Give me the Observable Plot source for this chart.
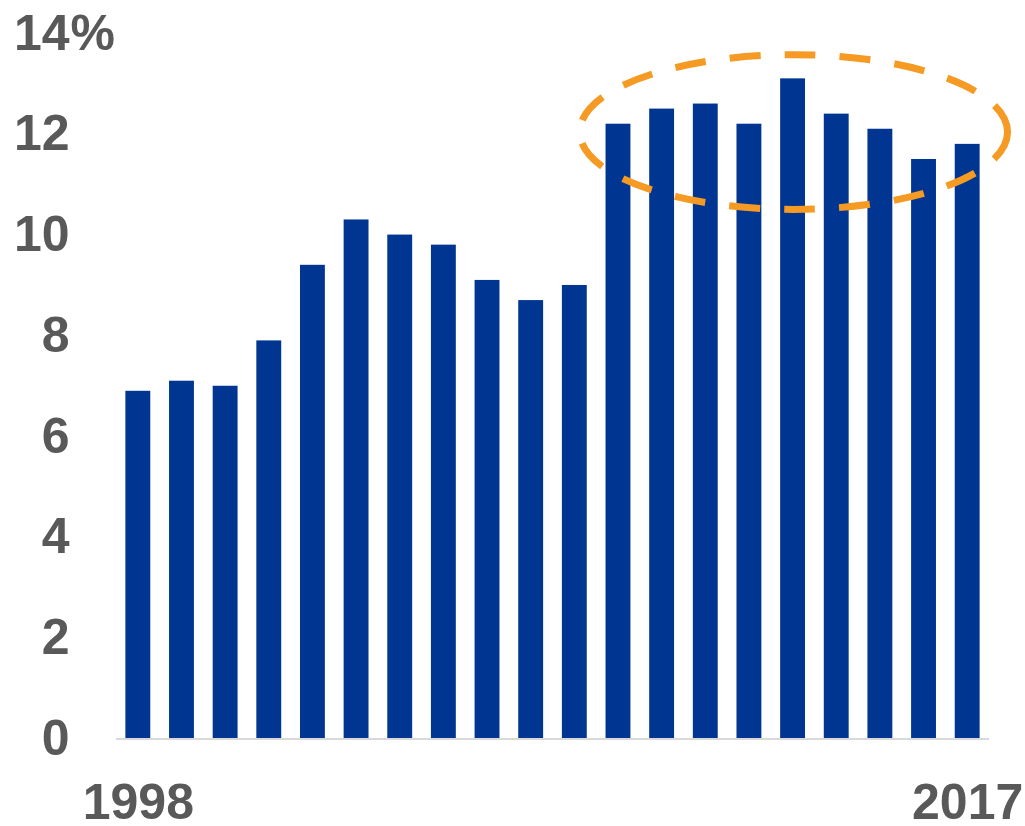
<!DOCTYPE html>
<html>
<head>
<meta charset="utf-8">
<script src="https://cdn.jsdelivr.net/npm/d3@7"></script>
<script src="https://cdn.jsdelivr.net/npm/@observablehq/plot@0.6"></script>
<style>
  html, body { margin: 0; padding: 0; background: #fff; }
  #chart svg { display: block; }
</style>
</head>
<body>
<div id="chart"></div>
<script>
const years = ["1998","1999","2000","2001","2002","2003","2004","2005","2006","2007",
               "2008","2009","2010","2011","2012","2013","2014","2015","2016","2017"];
const values = [6.9, 7.1, 7.0, 7.9, 9.4, 10.3, 10.0, 9.8, 9.1, 8.7,
                9.0, 12.2, 12.5, 12.6, 12.2, 13.1, 12.4, 12.1, 11.5, 11.8];
const yTicks = [0, 2, 4, 6, 8, 10, 12, 14];
const xTickLabels = ["1998", "2017"];
const highlight = [{from: "2009", to: "2017", low: 10.5, high: 13.57}];

const data = years.map((y, i) => ({year: y, value: values[i]}));

const font = "'Liberation Sans', Arial, Helvetica, sans-serif";
const textColor = "#595959";
const padInner = 0.43;

function ellipseMark(index, scales, vals, dims) {
  const x = scales.x, y = scales.y;
  const step = x(years[1]) - x(years[0]);
  const bw = step * (1 - padInner);
  const g = d3.create("svg:g");
  for (const h of highlight) {
    const left = x(h.from) - 0.59 * step;
    const right = x(h.to) + bw + 0.64 * step;
    const top = y(h.high), bottom = y(h.low);
    g.append("ellipse")
      .attr("cx", (left + right) / 2)
      .attr("cy", (top + bottom) / 2)
      .attr("rx", (right - left) / 2)
      .attr("ry", (bottom - top) / 2)
      .attr("fill", "none")
      .attr("stroke", "#f59a23")
      .attr("stroke-width", 7)
      .attr("stroke-dasharray", "31,24");
  }
  return g.node();
}

const chart = Plot.plot({
  width: 1025,
  height: 826,
  marginLeft: 116,
  marginRight: 36,
  marginTop: 33,
  marginBottom: 87.5,
  style: {fontFamily: font, fontWeight: "bold", color: textColor, background: "#fff"},
  x: {domain: years, paddingInner: padInner, paddingOuter: padInner / 2, round: false, axis: null, label: null},
  y: {domain: [0, 14], axis: null, label: null},
  marks: [
    Plot.barY(data, {x: "year", y: "value", fill: "#003591"}),
    Plot.ruleY([0], {stroke: "#d9d9d9", strokeWidth: 2}),
    Plot.axisY(yTicks, {tickSize: 0, tickPadding: 47, fontSize: 50, fill: textColor, label: null, tickFormat: d => String(d)}),
    Plot.text(["%"], {y: () => 14, frameAnchor: "left", dx: -46, textAnchor: "start", fontSize: 50, fill: textColor}),
    Plot.axisX(xTickLabels, {tickSize: 0, tickPadding: 44, fontSize: 50, fill: textColor, label: null}),
    ellipseMark
  ]
});
document.getElementById("chart").append(chart);
</script>
</body>
</html>
